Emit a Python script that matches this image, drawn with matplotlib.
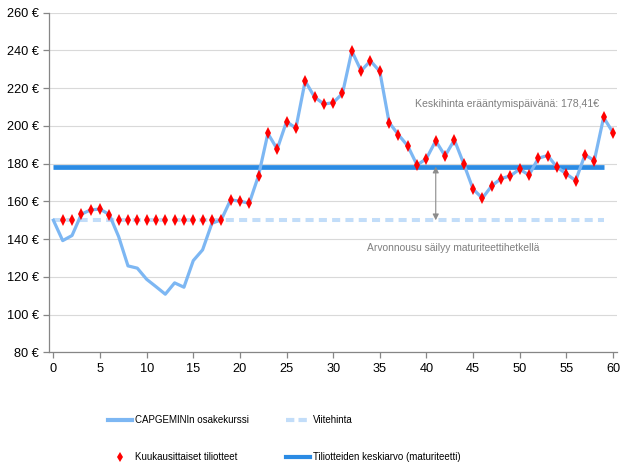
import matplotlib
matplotlib.use("Agg")
import matplotlib.pyplot as plt
from matplotlib.lines import Line2D

plt.rcParams['font.family'] = ['Liberation Sans', 'DejaVu Sans']

months = list(range(0, 61))
price = [150, 139.2, 141.9, 153.2, 155.5, 155.9, 153.0, 141.3, 125.8, 124.6, 118.7,
         114.8, 110.8, 116.8, 114.5, 128.6, 134.3, 148.4, 150.2, 160.8, 160.1,
         159.0, 173.7, 196.0, 187.7, 202.3, 198.8, 223.8, 215.3, 211.6, 212.3,
         217.2, 239.7, 229.2, 234.5, 228.9, 201.8, 195.3, 189.4, 179.2, 182.7,
         192.1, 184.1, 192.6, 179.9, 166.5, 161.7, 168.2, 172.1, 173.5, 177.1,
         173.9, 182.9, 184.3, 178.1, 174.6, 171.0, 184.7, 181.6, 204.5, 196.5]
stmt_months = list(range(1, 61))
statements = [150, 150, 153.2, 155.5, 155.9, 153.0, 150, 150, 150, 150,
              150, 150, 150, 150, 150, 150, 150, 150.2, 160.8, 160.1,
              159.0, 173.7, 196.0, 187.7, 202.3, 198.8, 223.8, 215.3, 211.6, 212.3,
              217.2, 239.7, 229.2, 234.5, 228.9, 201.8, 195.3, 189.4, 179.2, 182.7,
              192.1, 184.1, 192.6, 179.9, 166.5, 161.7, 168.2, 172.1, 173.5, 177.1,
              173.9, 182.9, 184.3, 178.1, 174.6, 171.0, 184.7, 181.6, 204.5, 196.5]
ref_months = [0, 59]
strike = [150, 150]
average = [178.41, 178.41]
yticks = [80, 100, 120, 140, 160, 180, 200, 220, 240, 260]
xticks = [0, 5, 10, 15, 20, 25, 30, 35, 40, 45, 50, 55, 60]

labels = ["CAPGEMINIn osakekurssi", "Kuukausittaiset tiliotteet",
          "Viitehinta", "Tiliotteiden keskiarvo (maturiteetti)"]

fig = plt.figure(figsize=(6.31, 4.66), dpi=100)
ax = fig.add_axes([0.0772, 0.244, 0.9773 - 0.0772, 0.9727 - 0.244])

c_price = '#7DB7F3'
c_avg = '#2B8BE4'
c_strike = '#C2DDF9'

ax.plot(ref_months, strike, color=c_strike, lw=2.9, ls=(0, (2.0, 1.3)), zorder=2)
ax.plot(ref_months, average, color=c_avg, lw=3.4, solid_capstyle='butt', zorder=3)
ax.plot(months, price, color=c_price, lw=2.3, zorder=4)
ax.plot(stmt_months, statements, ls='none', marker='d', color='#FF0000',
        markersize=5.8, markeredgewidth=0, zorder=5)

ax.annotate('', xy=(41, 150), xytext=(41, 178.41),
            arrowprops=dict(arrowstyle='<|-|>', color='#8C8C8C', lw=0.8,
                            mutation_scale=9, shrinkA=0, shrinkB=0), zorder=6)

ax.text(38.8, 211.7, "Keskihinta erääntymispäivänä: 178,41€", color='#7F7F7F',
        fontsize=7.6, va='center', ha='left')
ax.text(33.6, 135.2, "Arvonnousu säilyy maturiteettihetkellä", color='#7F7F7F',
        fontsize=7.4, va='center', ha='left')

ax.set_xlim(-0.5, 60.4)
ax.set_ylim(80, 260)
ax.set_yticks(yticks)
ax.set_yticklabels([f"{v} €" for v in yticks])
ax.set_xticks(xticks)
ax.yaxis.grid(True, color='#D9D9D9', lw=0.8)
ax.set_axisbelow(True)
for s in ['top', 'right']:
    ax.spines[s].set_visible(False)
for s in ['left', 'bottom']:
    ax.spines[s].set_color('#868686')
    ax.spines[s].set_linewidth(0.9)
ax.tick_params(axis='both', colors='#868686', labelcolor='black', labelsize=9.2,
               length=4, width=0.9)
ax.tick_params(axis='x', pad=4)
ax.tick_params(axis='y', pad=3)

handles = [Line2D([], [], color=c_price, lw=3),
           Line2D([], [], ls='none', marker='d', color='#FF0000', markersize=5, markeredgewidth=0),
           Line2D([], [], color=c_strike, lw=3, ls=(0, (2.0, 1.0))),
           Line2D([], [], color=c_avg, lw=3)]
fig.legend(handles, labels, ncol=2, loc='upper left', bbox_to_anchor=(0.163, 0.12),
           frameon=False, fontsize=7, handlelength=2.47, labelspacing=2.78,
           columnspacing=3.8, handletextpad=0.33, borderpad=0)

fig.savefig('out.png', dpi=100)
